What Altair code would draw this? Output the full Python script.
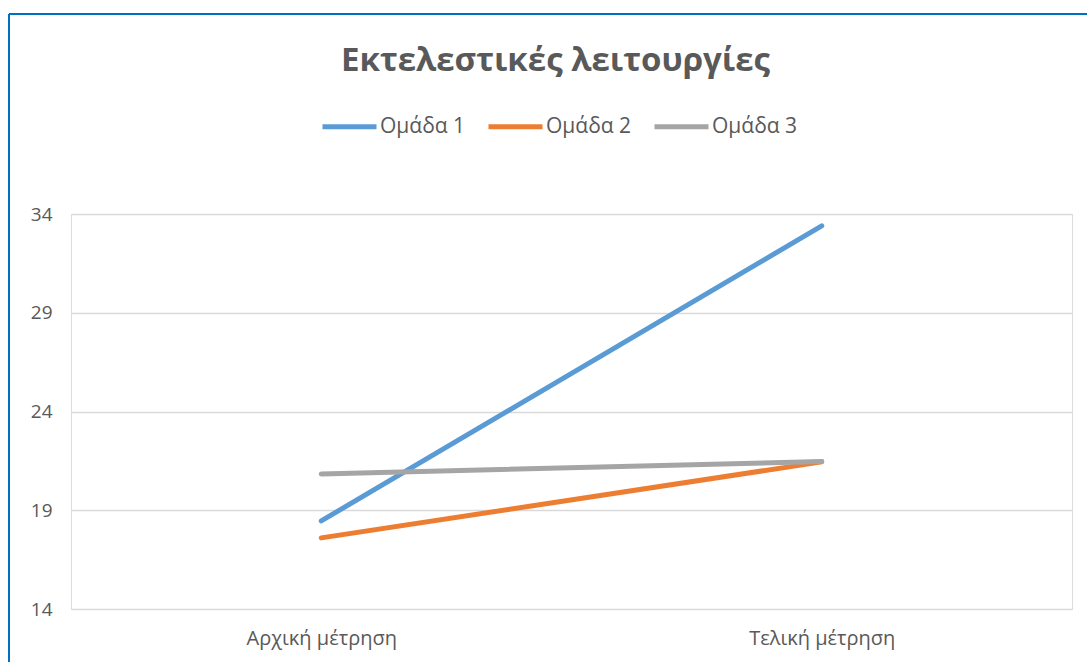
import altair as alt
import pandas as pd

# Scores per group at the two measurement points
phases = ["Αρχική μέτρηση", "Τελική μέτρηση"]
groups = ["Ομάδα 1", "Ομάδα 2", "Ομάδα 3"]
group1 = [18.46, 33.4]
group2 = [17.6, 21.45]
group3 = [20.84, 21.47]
y_ticks = [14, 19, 24, 29, 34]
colors = ["#5B9BD5", "#ED7D31", "#A5A5A5"]

rows = []
for g, vals in zip(groups, [group1, group2, group3]):
    for p, v in zip(phases, vals):
        rows.append({"phase": p, "group": g, "value": v})
df = pd.DataFrame(rows)

FONT = "Open Sans"
GREY = "#595959"

lines = alt.Chart(df).mark_line(strokeWidth=5, strokeCap="round").encode(
    x=alt.X("phase:N", sort=phases, title=None,
            scale=alt.Scale(type="point", padding=0.5),
            axis=alt.Axis(labelAngle=0, domain=False, ticks=False, grid=False,
                          labelFont=FONT, labelFontSize=20, labelColor=GREY,
                          labelPadding=19)),
    y=alt.Y("value:Q", title=None,
            scale=alt.Scale(domain=[14, 34], nice=False, zero=False),
            axis=alt.Axis(values=y_ticks, domain=False, ticks=False,
                          gridColor="#D9D9D9", gridWidth=1.5,
                          labelFont=FONT, labelFontSize=19, labelColor=GREY,
                          labelPadding=19)),
    color=alt.Color("group:N", sort=groups,
                    scale=alt.Scale(domain=groups, range=colors),
                    legend=alt.Legend(title=None, orient="none", direction="horizontal",
                                      legendX=249, legendY=-117,
                                      symbolType="stroke", symbolSize=2916,
                                      symbolStrokeWidth=5, labelFont=FONT,
                                      labelFontSize=21, labelColor=GREY,
                                      labelOffset=1, columnPadding=12)),
)

# Outer blue frame around the chart
frame_top = alt.Chart(df).mark_rule(color="#0070C0", strokeWidth=2).encode(
    x=alt.value(-62), x2=alt.value(1030), y=alt.value(-200)
)
frame_left = alt.Chart(df).mark_rule(color="#0070C0", strokeWidth=2).encode(
    x=alt.value(-62), y=alt.value(-200), y2=alt.value(460)
)

chart = alt.layer(frame_top, frame_left, lines).properties(
    width=1001,
    height=395,
    autosize=alt.AutoSizeParams(type="none"),
    padding={"left": 71, "top": 214, "right": 15, "bottom": 53},
    title=alt.TitleParams("Εκτελεστικές λειτουργίες", font=FONT, fontSize=33,
                          fontWeight="bold", color=GREY, anchor="middle",
                          dx=-16, dy=65, offset=0),
).configure_view(stroke=None).configure(background="white")

chart.save("out.html", embed_options={"renderer": "svg", "actions": False})
